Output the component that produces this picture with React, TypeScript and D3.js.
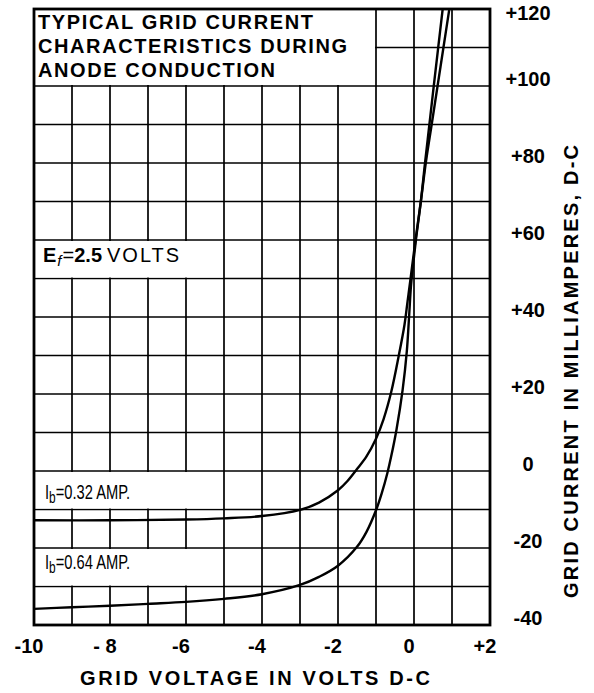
import React from "react";
import * as d3 from "d3";

// ---- data ----
const xTickValues = [-10, -8, -6, -4, -2, 0, 2];
const xTickLabels = ["-10", "- 8", "-6", "-4", "-2", "0", "+2"];
const yTickValues = [120, 100, 80, 60, 40, 20, 0, -20, -40];
const yTickLabels = ["+120", "+100", "+80", "+60", "+40", "+20", "0", "-20", "-40"];

// Ib = 0.32 AMP (grid voltage V, grid current mA)
const curve032V = [-10, -8, -6, -5, -4, -3, -2.5, -2, -1.75, -1.5, -1.25, -1, -0.8, -0.6, -0.4, -0.25, -0.17, -0.09, 0.04, 0.18, 0.31, 0.465, 0.62, 0.775, 0.93];
const curve032I = [-12.8, -12.8, -12.6, -12.3, -11.7, -10.1, -8.2, -5.0, -2.6, 0.5, 3.8, 8.4, 13.5, 20.5, 30, 38, 44, 50, 60, 70, 80, 90, 100, 110, 120];

// Ib = 0.64 AMP
const curve064V = [-10, -9, -8, -7, -6, -5, -4, -3, -2.5, -2, -1.5, -1.25, -1, -0.85, -0.7, -0.6, -0.46, -0.3, -0.19, -0.13, -0.08, -0.03, 0.05, 0.18, 0.29, 0.405, 0.52, 0.637, 0.755];
const curve064I = [-35.8, -35.4, -35.0, -34.5, -34.0, -33.2, -32.0, -29.6, -27.5, -24.6, -19.7, -15.8, -10.2, -5.8, -0.5, 3.8, 10.8, 21, 31, 40, 48, 53, 60, 70, 80, 90, 100, 110, 120];

const titleLines = ["TYPICAL GRID CURRENT", "CHARACTERISTICS DURING", "ANODE CONDUCTION"];
const xAxisTitle = "GRID VOLTAGE IN VOLTS D-C";
const yAxisTitle = "GRID CURRENT IN MILLIAMPERES, D-C";

const W = 594;
const H = 693;
const X0 = 34, X1 = 490, Y0 = 9, Y1 = 625;
const FONT = "'Liberation Sans', Arial, sans-serif";

export default function App() {
  const x = d3.scaleLinear().domain([-10, 2]).range([X0, X1]);
  const y = d3.scaleLinear().domain([-40, 120]).range([Y1, Y0]);

  const vGrid = d3.range(-10, 2.001, 1);
  const hGrid = d3.range(-40, 120.001, 10);

  const line = d3
    .line<[number, number]>()
    .x((d) => x(d[0]))
    .y((d) => y(d[1]))
    .curve(d3.curveCatmullRom.alpha(0.5));

  const c1 = curve032V.map((v, i) => [v, curve032I[i]] as [number, number]);
  const c2 = curve064V.map((v, i) => [v, curve064I[i]] as [number, number]);

  // label boxes (in data cells) that hide interior grid lines
  const boxes = [
    { v0: -10, v1: -1, i0: 100, i1: 120 },
    { v0: -10, v1: -5, i0: 50, i1: 60 },
    { v0: -10, v1: -5, i0: -10, i1: 0 },
    { v0: -10, v1: -5, i0: -30, i1: -20 },
  ];

  return (
    <svg
      width={W}
      height={H}
      style={{ position: "absolute", left: 0, top: 0, display: "block", background: "#fff" }}
    >
      <rect x={0} y={0} width={W} height={H} fill="#fff" />
      {/* grid */}
      <g stroke="#000" strokeWidth={1.7}>
        {vGrid.map((v) => (
          <line key={"v" + v} x1={x(v)} x2={x(v)} y1={Y0} y2={Y1} />
        ))}
        {hGrid.map((h) => (
          <line key={"h" + h} x1={X0} x2={X1} y1={y(h)} y2={y(h)} />
        ))}
      </g>
      {/* white label boxes */}
      {boxes.map((b, k) => (
        <rect
          key={"b" + k}
          x={x(b.v0) + 1}
          y={y(b.i1) + 1}
          width={x(b.v1) - x(b.v0) - 2}
          height={y(b.i0) - y(b.i1) - 2}
          fill="#fff"
        />
      ))}
      {/* curves */}
      <g fill="none" stroke="#000" strokeWidth={2.4} strokeLinejoin="round">
        <path d={line(c1) || ""} />
        <path d={line(c2) || ""} />
      </g>
      {/* frame */}
      <rect x={X0} y={Y0} width={X1 - X0} height={Y1 - Y0} fill="none" stroke="#000" strokeWidth={2.8} />

      {/* title */}
      <g fontFamily={FONT} fontWeight="bold" fontSize={20} fill="#000">
        <text x={38} y={29} textLength={275} lengthAdjust="spacing">{titleLines[0]}</text>
        <text x={38} y={53} textLength={309} lengthAdjust="spacing">{titleLines[1]}</text>
        <text x={38} y={77} textLength={237} lengthAdjust="spacing">{titleLines[2]}</text>
      </g>

      {/* in-plot labels */}
      <g fontFamily={FONT} fontSize={20} fill="#000">
        <text transform="translate(43,262)">
          <tspan fontWeight="bold">E</tspan>
          <tspan fontSize={15} fontStyle="italic" dy={4} dx={1}>f</tspan>
          <tspan dy={-4} dx={1}>=</tspan>
          <tspan fontWeight="bold">2.5</tspan>
          <tspan dx={5} letterSpacing={2}>VOLTS</tspan>
        </text>
        <text transform="translate(45,499) scale(0.7,1)" fontSize={21}>
          <tspan>I</tspan>
          <tspan fontSize={17} dy={4}>b</tspan>
          <tspan dy={-4}>=0.32 AMP.</tspan>
        </text>
        <text transform="translate(45,569) scale(0.7,1)" fontSize={21}>
          <tspan>I</tspan>
          <tspan fontSize={17} dy={4}>b</tspan>
          <tspan dy={-4}>=0.64 AMP.</tspan>
        </text>
      </g>

      {/* y tick labels */}
      <g fontFamily={FONT} fontWeight="bold" fontSize={20} fill="#000" textAnchor="middle">
        {yTickValues.map((v, k) => (
          <text key={"yt" + v} x={528} y={Math.max(y(v) - 5, 15)} dominantBaseline="middle">
            {yTickLabels[k]}
          </text>
        ))}
      </g>
      {/* x tick labels */}
      <g fontFamily={FONT} fontWeight="bold" fontSize={20} fill="#000" textAnchor="middle">
        {xTickValues.map((v, k) => (
          <text key={"xt" + v} x={x(v) - 5} y={653}>
            {xTickLabels[k]}
          </text>
        ))}
      </g>

      {/* axis titles */}
      <text
        x={80}
        y={685}
        fontFamily={FONT}
        fontWeight="bold"
        fontSize={20}
        textLength={350}
        lengthAdjust="spacing"
      >
        {xAxisTitle}
      </text>
      <text
        transform="translate(578,598) rotate(-90)"
        x={0}
        y={0}
        fontFamily={FONT}
        fontWeight="bold"
        fontSize={20}
        textLength={453}
        lengthAdjust="spacing"
      >
        {yAxisTitle}
      </text>
    </svg>
  );
}
